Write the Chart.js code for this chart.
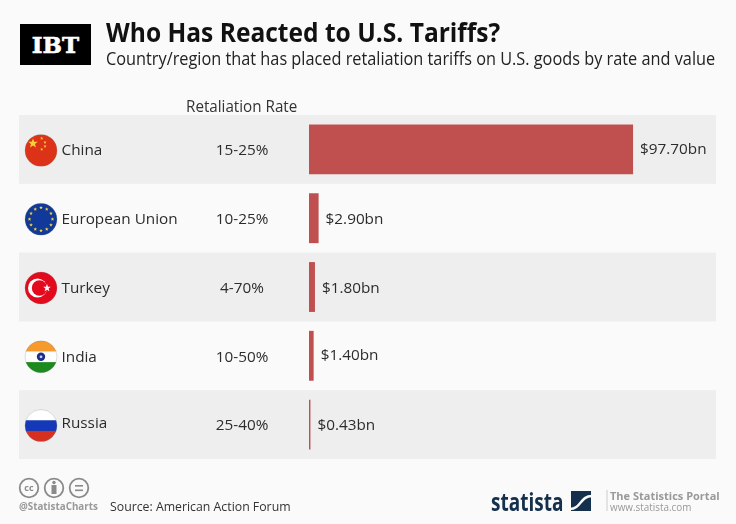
<!DOCTYPE html>
<html>
<head>
<meta charset="utf-8">
<script src="https://cdn.jsdelivr.net/npm/chart.js@4/dist/chart.umd.min.js"></script>
<style>
  html, body { margin: 0; padding: 0; background: #fafafa; }
  #wrap { position: relative; width: 736px; height: 524px; overflow: hidden; font-family: "Open Sans", sans-serif; color: #222; }
  #wrap canvas { position: absolute; left: 0; top: 0; }
  .txt { position: absolute; white-space: nowrap; transform-origin: left top; }
</style>
</head>
<body>
<div id="wrap">
  <canvas id="myChart" width="736" height="524"></canvas>
  <div class="txt" style="left:106px;top:13px;font-size:27.5px;font-weight:700;color:#111;transform:scaleX(0.893);">Who Has Reacted to U.S. Tariffs?</div>
  <div class="txt" style="left:106px;top:46px;font-size:17.5px;color:#222;transform:scaleX(0.931);">Country/region that has placed retaliation tariffs on U.S. goods by rate and value</div>
  <div class="txt" style="left:186px;top:95px;font-size:15.5px;color:#333;transform:scaleX(0.98);">Retaliation Rate</div>
  <div class="txt" style="left:20px;top:24px;width:71px;height:41px;line-height:41px;background:#000;color:#fff;text-align:center;font-family:'DejaVu Serif',serif;font-weight:700;font-size:23px;-webkit-text-stroke:0.6px #fff;">IBT</div>
  <div class="txt" style="left:19px;top:500px;font-size:9.8px;font-weight:700;color:#999;">@StatistaCharts</div>
  <div class="txt" style="left:110px;top:498px;font-size:12.3px;color:#333;">Source: American Action Forum</div>
  <div class="txt" style="left:491px;top:484px;font-size:25px;font-weight:700;color:#14304d;transform:scaleX(0.76);">statista</div>
  <div class="txt" style="left:610px;top:488px;font-size:11px;font-weight:700;color:#999;">The Statistics Portal</div>
  <div class="txt" style="left:610px;top:500px;font-size:10.5px;color:#999;transform:scaleX(0.94);">www.statista.com</div>
</div>
<script>
const countries = ['China', 'European Union', 'Turkey', 'India', 'Russia'];
const rates = ['15-25%', '10-25%', '4-70%', '10-50%', '25-40%'];
const values = [97.70, 2.90, 1.80, 1.40, 0.43];
const valueLabels = ['$97.70bn', '$2.90bn', '$1.80bn', '$1.40bn', '$0.43bn'];

function circle(ctx, x, y, r) {
    ctx.beginPath();
    ctx.arc(x, y, r, 0, Math.PI * 2);
}

function star(ctx, x, y, r, color) {
    ctx.fillStyle = color;
    ctx.beginPath();
    for (let i = 0; i < 10; i++) {
        let a = -Math.PI / 2 + i * Math.PI / 5;
        let d = i % 2 ? r * 0.42 : r;
        ctx.lineTo(x + Math.cos(a) * d, y + Math.sin(a) * d);
    }
    ctx.closePath();
    ctx.fill();
}

function stripes(ctx, x, y, r, colors) {
    let h = r * 2 / colors.length;
    colors.forEach(function (c, i) {
        ctx.fillStyle = c;
        ctx.fillRect(x - r, y - r + i * h, r * 2, h + 0.5);
    });
}

const flags = {
    'China': function (ctx, x, y, r) {
        ctx.fillStyle = '#dc3318';
        ctx.fillRect(x - r, y - r, r * 2, r * 2);
        star(ctx, x - 8, y - 7, 5, '#f7d038');
        [[0.7, -12], [4, -8], [4, -4], [0.7, -1]].forEach(function (p) {
            star(ctx, x + p[0], y + p[1], 1.7, '#f7d038');
        });
    },
    'European Union': function (ctx, x, y, r) {
        ctx.fillStyle = '#10399a';
        ctx.fillRect(x - r, y - r, r * 2, r * 2);
        for (let i = 0; i < 12; i++) {
            let a = i * Math.PI / 6;
            star(ctx, x + Math.cos(a) * 11.5, y + Math.sin(a) * 11.5, 1.9, '#f5d33c');
        }
    },
    'Turkey': function (ctx, x, y, r) {
        ctx.fillStyle = '#e30a1e';
        ctx.fillRect(x - r, y - r, r * 2, r * 2);
        ctx.fillStyle = '#fff';
        circle(ctx, x - 3.5, y, 9.5);
        ctx.fill();
        ctx.fillStyle = '#e30a1e';
        circle(ctx, x - 1.5, y, 7.7);
        ctx.fill();
        star(ctx, x + 6, y, 4, '#fff');
    },
    'India': function (ctx, x, y, r) {
        stripes(ctx, x, y, r, ['#f79a2e', '#ffffff', '#1c8a1c']);
        ctx.fillStyle = '#1f2d8a';
        circle(ctx, x, y, 4.2);
        ctx.fill();
        ctx.fillStyle = '#cfd3ee';
        circle(ctx, x, y, 1.4);
        ctx.fill();
    },
    'Russia': function (ctx, x, y, r) {
        stripes(ctx, x, y, r, ['#ffffff', '#1438b8', '#d83020']);
    }
};

const rowPlugin = {
    id: 'rows',
    beforeDatasetsDraw: function (chart) {
        let ctx = chart.ctx;
        let yScale = chart.scales.y;
        let area = chart.chartArea;
        let rowH = yScale.getPixelForValue(1) - yScale.getPixelForValue(0);

        ctx.save();
        countries.forEach(function (name, i) {
            let y = yScale.getPixelForValue(i);
            if (i % 2 === 0) {
                ctx.fillStyle = '#eeeeee';
                ctx.fillRect(19, y - rowH / 2, area.right - 19, rowH);
            }
        });
        ctx.restore();
    },
    afterDatasetsDraw: function (chart) {
        let ctx = chart.ctx;
        let yScale = chart.scales.y;
        let xScale = chart.scales.x;
        // the original's labels are not quite on one line per row
        let nameShift = [1.5, 1.5, 1.5, 1.5, -0.5];
        let valueShift = [0.5, 1.5, 1.5, -0.5, 1.5];

        ctx.save();
        ctx.textBaseline = 'middle';
        ctx.font = '15.3px "Open Sans"';
        countries.forEach(function (name, i) {
            let y = yScale.getPixelForValue(i);

            ctx.save();
            circle(ctx, 41, y + 1, 16);
            ctx.clip();
            flags[name](ctx, 41, y + 1, 16);
            ctx.restore();
            ctx.strokeStyle = 'rgba(120,120,120,0.35)';
            ctx.lineWidth = 0.7;
            circle(ctx, 41, y + 1, 16);
            ctx.stroke();

            ctx.fillStyle = '#2c2c2c';
            ctx.textAlign = 'left';
            ctx.fillText(name, 61.5, y + nameShift[i]);
            ctx.textAlign = 'center';
            ctx.fillText(rates[i], 242, y + 1.5);
            ctx.textAlign = 'left';
            ctx.fillText(valueLabels[i], xScale.getPixelForValue(values[i]) + 7, y + valueShift[i]);
        });

        // licence icons
        ctx.strokeStyle = '#8a8a8a';
        ctx.lineWidth = 1.8;
        [29, 54, 79].forEach(function (x) {
            circle(ctx, x, 488, 9.3);
            ctx.stroke();
        });
        ctx.fillStyle = '#8a8a8a';
        ctx.font = '700 9px "Open Sans"';
        ctx.textAlign = 'center';
        ctx.fillText('cc', 29, 488);
        circle(ctx, 54, 482.5, 1.7);
        ctx.fill();
        ctx.fillRect(51.5, 485, 5, 9);
        ctx.fillRect(75, 485, 8, 1.6);
        ctx.fillRect(75, 489.5, 8, 1.6);

        // statista mark
        ctx.fillStyle = '#14304d';
        ctx.fillRect(571, 491, 20, 20);
        ctx.strokeStyle = '#fafafa';
        ctx.lineWidth = 2.5;
        ctx.beginPath();
        ctx.moveTo(570, 509);
        ctx.bezierCurveTo(581, 509, 580, 496, 592, 496);
        ctx.stroke();
        ctx.fillStyle = '#cccccc';
        ctx.fillRect(606.5, 490, 1, 21);
        ctx.restore();
    }
};

new Chart(document.getElementById('myChart').getContext('2d'), {
    type: 'bar',
    plugins: [rowPlugin],
    data: {
        labels: countries,
        datasets: [{
            label: 'Retaliation tariffs',
            data: values,
            backgroundColor: '#c05050',
            categoryPercentage: 1,
            barPercentage: 0.725
        }]
    },
    options: {
        indexAxis: 'y',
        responsive: false,
        animation: false,
        layout: { padding: { left: 309, top: 115, right: 20, bottom: 65 } },
        plugins: { legend: { display: false }, tooltip: { enabled: false } },
        scales: {
            x: { display: false, min: 0, max: 122.7 },
            y: { display: false }
        }
    }
});
</script>
</body>
</html>
